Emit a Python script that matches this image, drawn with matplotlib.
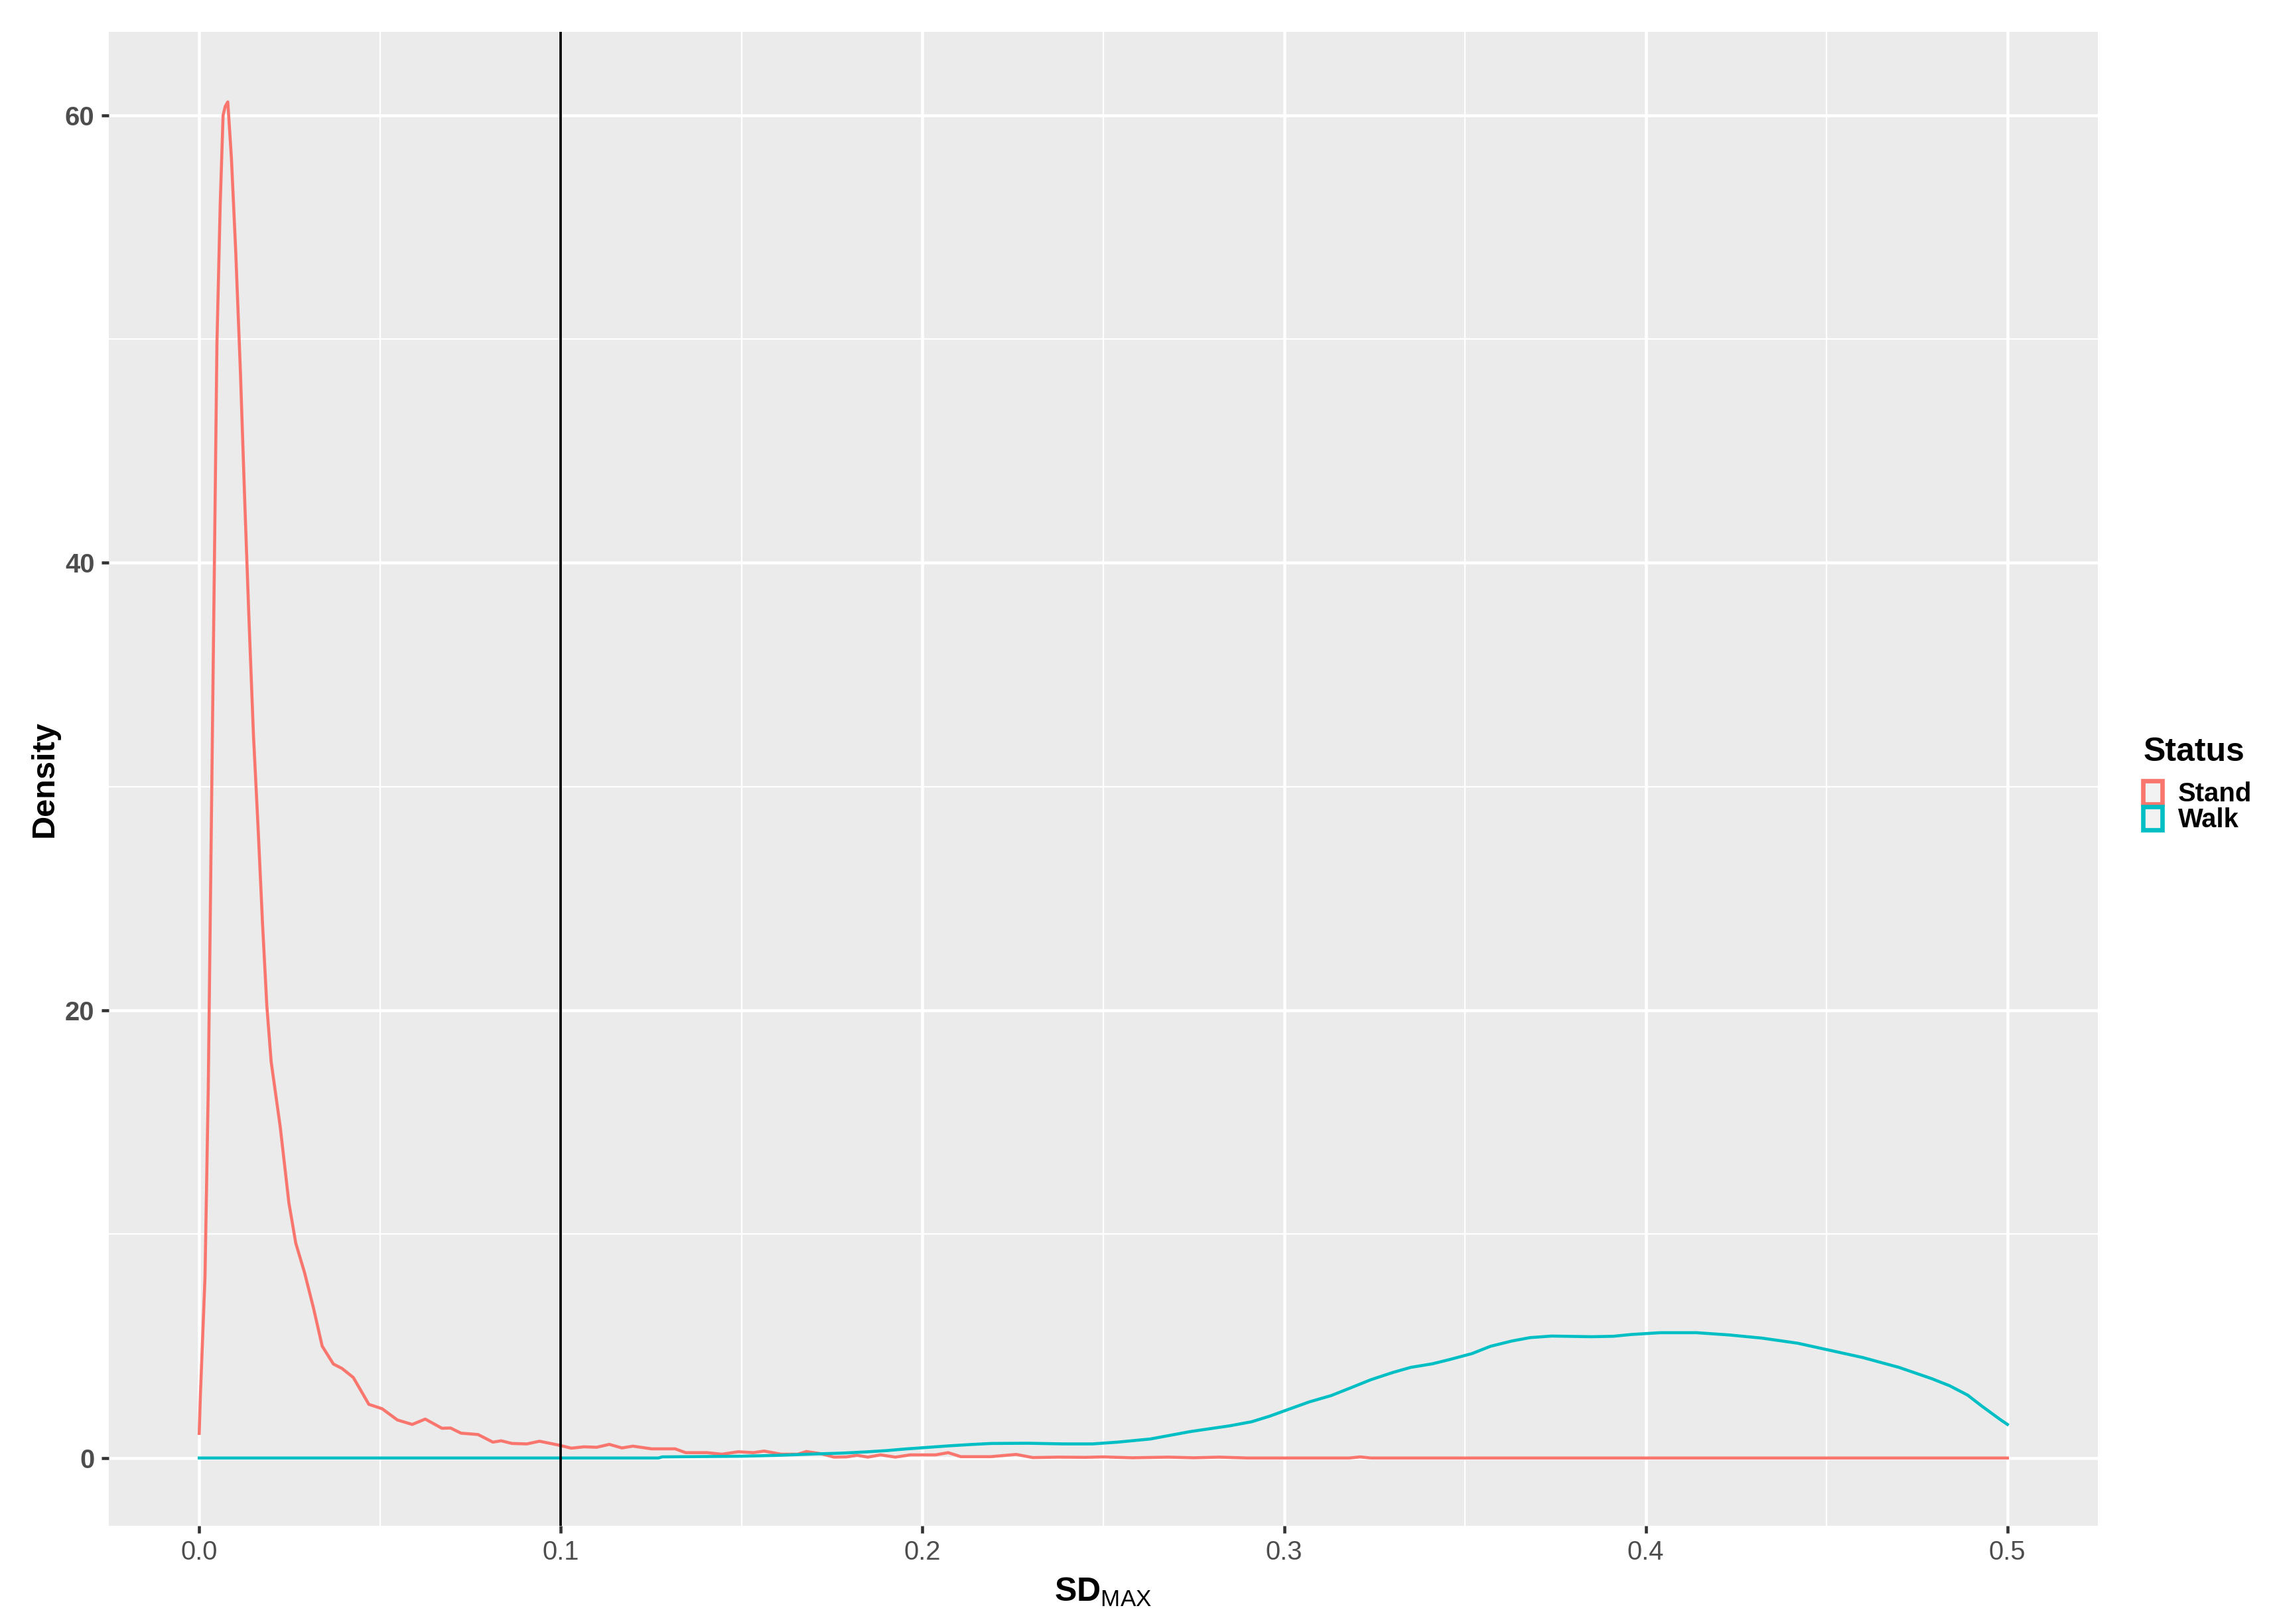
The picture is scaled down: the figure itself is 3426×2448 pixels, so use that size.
import matplotlib
matplotlib.use("Agg")
import matplotlib.pyplot as plt
from matplotlib.patches import Patch
import numpy as np

# ---- data ----
stand_x = [0.0000, 0.0003, 0.0016, 0.0025, 0.0031, 0.0037, 0.0043, 0.0049, 0.0058, 0.0066,
           0.0072, 0.0079, 0.0089, 0.0101, 0.0114, 0.0126, 0.0138, 0.0150, 0.0163, 0.0175,
           0.0187, 0.0199, 0.0224, 0.0248, 0.0267, 0.0291, 0.0316, 0.0340, 0.0371, 0.0395,
           0.0426, 0.0444, 0.0469, 0.0506, 0.0548, 0.0589, 0.0625, 0.0671, 0.0695, 0.0724,
           0.0771, 0.0812, 0.0835, 0.0865, 0.0906, 0.0941, 0.0993, 0.1029, 0.1064, 0.1099,
           0.1134, 0.1169, 0.1199, 0.1251, 0.1316, 0.1345, 0.1404, 0.1445, 0.1491, 0.1532,
           0.1562, 0.1609, 0.1655, 0.1679, 0.1720, 0.1755, 0.1790, 0.1819, 0.1849, 0.1884,
           0.1925, 0.1966, 0.2036, 0.2071, 0.2106, 0.2188, 0.2259, 0.2305, 0.2376, 0.2450,
           0.2500, 0.2580, 0.2680, 0.2750, 0.2820, 0.2900, 0.3180, 0.3210, 0.3240, 0.5000]
stand_y = [1.1, 2.7, 8.1, 16.5, 24.8, 33.1, 41.4, 49.8, 56.0, 60.0,
           60.4, 60.6, 58.1, 53.9, 48.5, 42.7, 37.3, 32.3, 28.1, 23.9,
           20.2, 17.7, 14.8, 11.4, 9.6, 8.3, 6.7, 5.0, 4.2, 4.0,
           3.6, 3.1, 2.4, 2.2, 1.7, 1.5, 1.74, 1.33, 1.34, 1.11,
           1.05, 0.71, 0.77, 0.65, 0.63, 0.75, 0.58, 0.44, 0.50, 0.48,
           0.61, 0.45, 0.53, 0.41, 0.41, 0.24, 0.24, 0.17, 0.28, 0.24,
           0.31, 0.17, 0.17, 0.29, 0.19, 0.04, 0.05, 0.12, 0.04, 0.14,
           0.04, 0.14, 0.14, 0.24, 0.06, 0.06, 0.16, 0.02, 0.04, 0.03,
           0.05, 0.01, 0.04, 0.01, 0.04, 0.0, 0.0, 0.05, 0.0, 0.0]

walk_x = [0.000, 0.127, 0.128, 0.150, 0.160, 0.170, 0.178, 0.184, 0.190, 0.195,
          0.201, 0.207, 0.213, 0.219, 0.229, 0.239, 0.247, 0.254, 0.263, 0.274,
          0.285, 0.291, 0.296, 0.302, 0.307, 0.313, 0.318, 0.324, 0.330, 0.335,
          0.341, 0.346, 0.352, 0.357, 0.363, 0.368, 0.374, 0.385, 0.391, 0.396,
          0.404, 0.414, 0.423, 0.432, 0.442, 0.451, 0.460, 0.470, 0.479, 0.484,
          0.489, 0.493, 0.498, 0.500]
walk_y = [0.0, 0.0, 0.05, 0.08, 0.12, 0.18, 0.22, 0.27, 0.33, 0.40,
          0.47, 0.54, 0.60, 0.65, 0.66, 0.63, 0.63, 0.71, 0.85, 1.18,
          1.44, 1.62, 1.87, 2.22, 2.51, 2.79, 3.11, 3.50, 3.82, 4.05,
          4.21, 4.41, 4.67, 4.99, 5.23, 5.38, 5.45, 5.42, 5.44, 5.52,
          5.60, 5.60, 5.50, 5.36, 5.13, 4.81, 4.49, 4.05, 3.55, 3.23,
          2.81, 2.31, 1.72, 1.50]

status = ["Stand", "Walk"]
colors = ["#F8766D", "#00BFC4"]
cutoff = 0.1

x_ticks = [0.0, 0.1, 0.2, 0.3, 0.4, 0.5]
x_ticklabels = ["0.0", "0.1", "0.2", "0.3", "0.4", "0.5"]
y_ticks = [0, 20, 40, 60]

# ---- style ----
plt.rcParams["font.family"] = ["Liberation Sans", "DejaVu Sans"]
plt.rcParams["mathtext.fontset"] = "custom"
plt.rcParams["mathtext.rm"] = "Liberation Sans"
plt.rcParams["mathtext.bf"] = "Liberation Sans:bold"

W, H = 3426, 2448
fig = plt.figure(figsize=(11.42, 8.16), dpi=300)
ax = fig.add_axes([164 / W, 1 - 2300 / H, (3162 - 164) / W, (2300 - 48) / H])
ax.set_facecolor("#EBEBEB")
for s in ax.spines.values():
    s.set_visible(False)

ax.plot(stand_x, stand_y, color=colors[0], lw=1.1, zorder=3)
ax.plot(walk_x, walk_y, color=colors[1], lw=1.1, zorder=3)
ax.axvline(cutoff, color="black", lw=0.9, zorder=4)

ax.set_xlim(-0.025, 0.525)
ax.set_ylim(-3.03, 63.73)
ax.set_xticks(x_ticks)
ax.set_xticklabels(x_ticklabels)
ax.set_yticks(y_ticks)
ax.set_xticks(np.array(x_ticks[:-1]) + 0.05, minor=True)
ax.set_yticks([10, 30, 50], minor=True)
ax.grid(which="major", color="white", lw=1.1)
ax.grid(which="minor", color="white", lw=0.55)
ax.set_axisbelow(True)

ax.tick_params(which="major", length=2.75, width=1.1, color="#333333",
               labelsize=9.6, labelcolor="#4D4D4D", pad=2.4)
ax.tick_params(which="minor", length=0)
for lab in ax.get_yticklabels():
    lab.set_fontweight("bold")

ax.set_xlabel(r"SD$_{\mathrm{MAX}}$", fontsize=12, fontweight="bold", labelpad=4)
ax.set_ylabel("Density", fontsize=11.7, fontweight="bold", labelpad=2)

# legend: title drawn separately so the keys can touch each other
fig.text(3231 / W, 1 - 1147 / H, "Status", fontsize=12, fontweight="bold",
         ha="left", va="baseline")
handles = [Patch(facecolor="#F2F2F2", edgecolor=c, lw=1.6, label=s)
           for s, c in zip(status, colors)]
leg = fig.legend(handles=handles, loc="upper left",
                 bbox_to_anchor=(3210 / W, 1 - 1157 / H), frameon=False,
                 borderpad=0, labelspacing=0.0, handlelength=0.72, handleheight=0.95,
                 handletextpad=0.6, prop={"size": 9.6, "weight": "bold"})

fig.savefig("out.png", dpi=300)
